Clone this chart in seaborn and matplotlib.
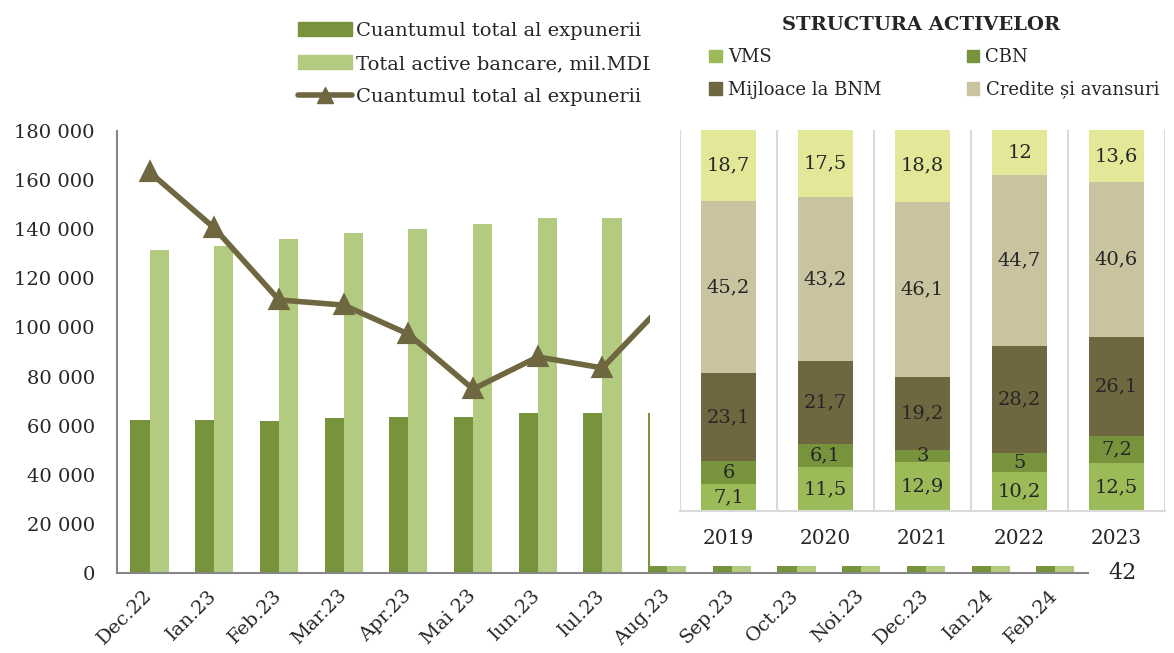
import numpy as np
import pandas as pd
import matplotlib
matplotlib.use('Agg')
import matplotlib.pyplot as plt
from matplotlib.lines import Line2D
from matplotlib.patches import Patch, Rectangle
import seaborn as sns

# --- date: grafic principal (lunar) ---
luni = ['Dec.22', 'Ian.23', 'Feb.23', 'Mar.23', 'Apr.23', 'Mai 23', 'Iun.23', 'Iul.23',
        'Aug.23', 'Sep.23', 'Oct.23', 'Noi.23', 'Dec.23', 'Ian.24', 'Feb.24']
expunere = [62300, 62300, 61900, 63100, 63500, 63500, 65100, 65100,
            65150, 65800, 66200, 66800, 67300, 67600, 68000]
active = [131500, 133000, 136000, 138500, 140000, 142000, 144600, 144600,
          146500, 148000, 149500, 150500, 152000, 152500, 153500]
expunere_linie = [163300, 140500, 111200, 109100, 97300, 74900, 88000, 83500,
                  111000, 106000, 101000, 98000, 95000, 93000, 90000]
y_ticks = list(range(0, 180001, 20000))

# --- date: structura activelor (%) ---
ani = ['2019', '2020', '2021', '2022', '2023']
vms = [7.1, 11.5, 12.9, 10.2, 12.5]
cbn = [6, 6.1, 3, 5, 7.2]
mijloace_bnm = [23.1, 21.7, 19.2, 28.2, 26.1]
credite = [45.2, 43.2, 46.1, 44.7, 40.6]
alte_active = [18.7, 17.5, 18.8, 12, 13.6]

c_dark = '#77933C'
c_light = '#B3CB80'
c_line = '#6F6740'
c_vms = '#9BBB59'
c_tan = '#C9C3A0'
c_yel = '#E2E898'
c_axis = '#868686'

sns.set_style('white')
plt.rcParams['font.family'] = ['DejaVu Serif']

W, H = 1174, 653
fig = plt.figure(figsize=(W / 100, H / 100), dpi=100)


def box(x0, y0, x1, y1):
    # pixel box (origin top-left) -> figure rect
    return [x0 / W, 1 - y1 / H, (x1 - x0) / W, (y1 - y0) / H]


# ============================================================
# main chart
# ============================================================
ax = fig.add_axes(box(117.2, 131, 1087.7, 573))
df = pd.DataFrame({
    'luna': luni * 2,
    'serie': ['expunere'] * len(luni) + ['active'] * len(luni),
    'valoare': expunere + active,
})
sns.barplot(data=df, x='luna', y='valoare', hue='serie', palette=[c_dark, c_light],
            width=0.59, saturation=1, gap=0, legend=False, linewidth=0, ax=ax)
sns.pointplot(x=luni, y=expunere_linie, color=c_line, markers='^',
              markersize=11, linewidth=4, ax=ax)

ax.set_xlim(-0.5, len(luni) - 0.5)
ax.set_ylim(0, 180000)
ax.set_yticks(y_ticks, labels=[f'{v:,.0f}'.replace(',', ' ') for v in y_ticks])
ax.set_xticks(range(len(luni)), labels=luni, rotation=45, ha='right',
              rotation_mode='anchor', va='center')
ax.set_xticks(np.arange(-0.5, len(luni)), minor=True)
ax.set_xlabel('')
ax.set_ylabel('')
for s in ['top', 'right']:
    ax.spines[s].set_visible(False)
for s in ['left', 'bottom']:
    ax.spines[s].set_color(c_axis)
    ax.spines[s].set_linewidth(1.5)
ax.tick_params(axis='y', direction='inout', length=14, width=1.5, color=c_axis,
               labelsize=14, pad=9)
ax.tick_params(axis='x', which='major', length=0, labelsize=14, pad=14)
ax.tick_params(axis='x', which='minor', direction='inout', length=14, width=1.5,
               color=c_axis)

leg = fig.legend(
    handles=[Patch(color=c_dark), Patch(color=c_light),
             Line2D([], [], color=c_line, lw=4, marker='^', ms=11)],
    labels=['Cuantumul total al expunerii', 'Total active bancare, mil.MDL',
            'Cuantumul total al expunerii'],
    loc='upper left', bbox_to_anchor=(290 / W, 1 - 14 / H), frameon=False,
    fontsize=14, handlelength=2.8, handleheight=0.7, labelspacing=0.78,
    handletextpad=0.2, borderaxespad=0)
leg.set_zorder(5)

# white panel of the inset chart
fig.add_artist(Rectangle((650 / W, 1 - 565.5 / H), (W - 650) / W, 565.5 / H,
                         transform=fig.transFigure, facecolor='white',
                         edgecolor='none', zorder=10))

# ============================================================
# inset: STRUCTURA ACTIVELOR
# ============================================================
axi = fig.add_axes(box(680, 130, 1165, 511), zorder=11)
axi.set_facecolor('none')
straturi = [vms, cbn, mijloace_bnm, credite, alte_active]
culori = [c_vms, c_dark, c_line, c_tan, c_yel]
cum = np.cumsum(np.array(straturi), axis=0)
for k in reversed(range(len(straturi))):
    sns.barplot(x=ani, y=cum[k], color=culori[k], width=0.56, saturation=1,
                linewidth=0, ax=axi)

axi.set_ylim(0, 100)
axi.set_xlim(-0.5, len(ani) - 0.5)
for b in np.arange(-0.5, len(ani)):
    axi.axvline(b, color='#D9D9D9', lw=1.5, zorder=0)
for s in ['top', 'right', 'left']:
    axi.spines[s].set_visible(False)
axi.spines['bottom'].set_color('#D9D9D9')
axi.spines['bottom'].set_linewidth(1.5)
axi.set_yticks([])
axi.tick_params(axis='x', length=0, labelsize=14.5, pad=13)
axi.set_xlabel('')
axi.set_ylabel('')

for i in range(len(ani)):
    for k in range(len(straturi)):
        lo = cum[k - 1][i] if k > 0 else 0
        hi = min(cum[k][i], 100)
        axi.text(i, (lo + hi) / 2, f'{straturi[k][i]:g}'.replace('.', ','),
                 ha='center', va='center', fontsize=14)

leg2 = fig.legend(
    handles=[Patch(color=c_vms), Patch(color=c_line), Patch(color=c_dark), Patch(color=c_tan)],
    labels=['VMS', 'Mijloace la BNM', 'CBN', 'Credite și avansuri'],
    ncol=2, loc='upper left', bbox_to_anchor=(702 / W, 1 - 41 / H), frameon=False,
    fontsize=13, handlelength=0.7, handleheight=0.7, handletextpad=0.35,
    columnspacing=4.7, labelspacing=0.8, borderaxespad=0)
leg2.set_zorder(12)

fig.text(921 / W, 1 - 25 / H, 'STRUCTURA ACTIVELOR', ha='center', va='center',
         fontsize=14, fontweight='bold', zorder=12)
fig.text(1108 / W, 1 - 573 / H, '42', ha='left', va='center', fontsize=16, zorder=12)

fig.savefig('out.png', dpi=100)
